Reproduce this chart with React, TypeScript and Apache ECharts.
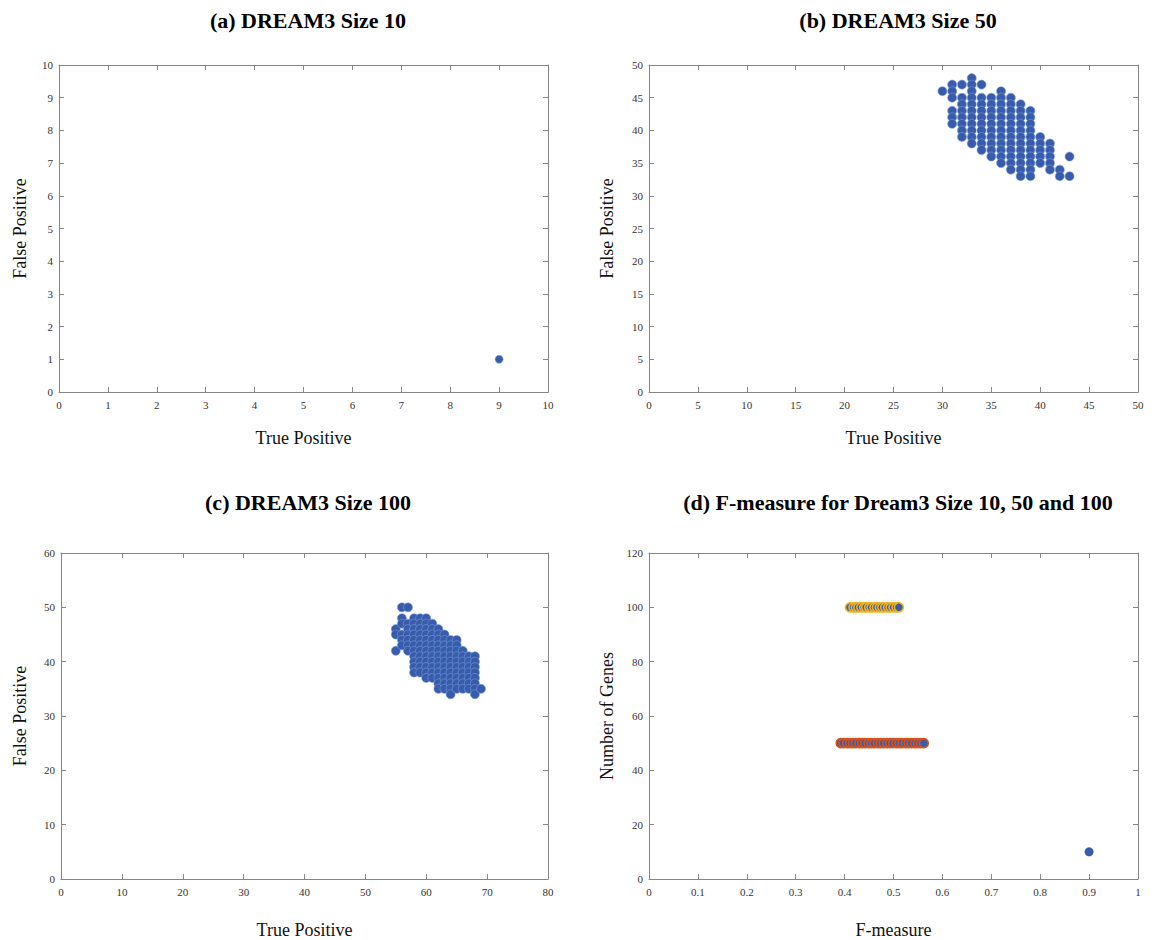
import React, { useEffect, useRef } from "react";
import * as echarts from "echarts";

// ---------- data ----------
const titles = [
  "(a) DREAM3 Size 10",
  "(b) DREAM3 Size 50",
  "(c) DREAM3 Size 100",
  "(d) F-measure for Dream3 Size 10, 50 and 100",
];
const xNames = ["True Positive", "True Positive", "True Positive", "F-measure"];
const yNames = ["False Positive", "False Positive", "False Positive", "Number of Genes"];

// panel (a): [TP, FP]
const size10Points: number[][] = [[9, 1]];

// panel (b): TP columns and the FP values present in each column
const size50TP = [30, 31, 32, 33, 34, 35, 36, 37, 38, 39, 40, 41, 42, 43];
const size50FP: number[][] = [
  [46],
  [47, 46, 45, 43, 42, 41],
  [47, 45, 44, 43, 42, 41, 40, 39],
  [48, 47, 46, 45, 44, 43, 42, 41, 40, 39, 38],
  [47, 45, 44, 43, 42, 41, 40, 39, 38, 37],
  [45, 44, 43, 42, 41, 40, 39, 38, 37, 36],
  [46, 45, 44, 43, 42, 41, 40, 39, 38, 37, 36, 35],
  [45, 44, 43, 42, 41, 40, 39, 38, 37, 36, 35, 34],
  [44, 43, 42, 41, 40, 39, 38, 37, 36, 35, 34, 33],
  [43, 42, 41, 40, 39, 38, 37, 36, 35, 34, 33],
  [39, 38, 37, 36, 35],
  [38, 37, 36, 35, 34],
  [34, 33],
  [36, 33],
];

// panel (c)
const size100TP = [55, 56, 57, 58, 59, 60, 61, 62, 63, 64, 65, 66, 67, 68, 69];
const size100FP: number[][] = [
  [46, 45, 42],
  [50, 48, 47, 45, 44, 43],
  [50, 47, 46, 45, 44, 43, 42],
  [48, 47, 46, 45, 44, 43, 42, 41, 40, 39, 38],
  [48, 47, 46, 45, 44, 43, 42, 41, 40, 39, 38],
  [48, 47, 46, 45, 44, 43, 42, 41, 40, 39, 38, 37],
  [47, 46, 45, 44, 43, 42, 41, 40, 39, 38, 37],
  [46, 45, 44, 43, 42, 41, 40, 39, 38, 37, 36, 35],
  [45, 44, 43, 42, 41, 40, 39, 38, 37, 36, 35],
  [44, 43, 42, 41, 40, 39, 38, 37, 36, 35, 34],
  [44, 43, 42, 41, 40, 39, 38, 37, 36, 35],
  [42, 41, 40, 39, 38, 37, 36, 35],
  [41, 40, 39, 38, 37, 36, 35],
  [41, 40, 39, 38, 37, 36, 35, 34],
  [35],
];

// panel (d): F-measure values per network size
const fSize100 = [0.411, 0.418, 0.423, 0.428, 0.434, 0.44, 0.444, 0.45, 0.455, 0.461, 0.466, 0.472, 0.477, 0.483, 0.489, 0.494, 0.5, 0.506, 0.511];
const fSize50 = [0.392, 0.398, 0.405, 0.411, 0.417, 0.423, 0.43, 0.436, 0.442, 0.449, 0.455, 0.461, 0.468, 0.474, 0.48, 0.487, 0.493, 0.499, 0.506, 0.512, 0.518, 0.525, 0.531, 0.537, 0.544, 0.55, 0.556, 0.562];
const fSize10 = [0.9];
const geneCounts = [100, 50, 10];

// axis ranges
const xMax = [10, 50, 80, 1];
const xStep = [1, 5, 10, 0.1];
const yMax = [10, 50, 60, 120];
const yStep = [1, 5, 10, 20];

// ---------- styles ----------
const SERIF = "Liberation Serif";
const BLUE = "#3a5ba9";
const AXIS = "#858585";

const grids = [
  { left: 59, top: 65, width: 489, height: 327 },
  { left: 649, top: 65, width: 489, height: 327 },
  { left: 61, top: 553, width: 487, height: 326 },
  { left: 649, top: 553, width: 489, height: 326 },
];
const titlePos = [
  { x: 303, y: 4 },
  { x: 893, y: 4 },
  { x: 303, y: 486 },
  { x: 893, y: 486 },
];
const xNameGap = [37, 37, 42, 42];
const yNameGap = [30, 33, 32, 33];

function fmt(v: number) {
  return String(Math.round(v * 10) / 10);
}

function columnsToPoints(tps: number[], fps: number[][]) {
  const out: number[][] = [];
  tps.forEach((tp, i) => fps[i].forEach((fp) => out.push([tp, fp])));
  return out;
}

export default function App() {
  const ref = useRef<HTMLDivElement>(null);

  useEffect(() => {
    if (!ref.current) return;
    const chart = echarts.init(ref.current, undefined, { renderer: "svg" });

    const xAxes: any[] = [];
    const yAxes: any[] = [];
    for (let i = 0; i < 4; i++) {
      const common = {
        gridIndex: i,
        type: "value",
        min: 0,
        splitLine: { show: false },
        axisLine: { show: true, onZero: false, lineStyle: { color: AXIS, width: 1 } },
        axisTick: { show: true, inside: true, length: 5, lineStyle: { color: AXIS } },
      };
      xAxes.push({
        ...common,
        max: xMax[i],
        interval: xStep[i],
        position: "bottom",
        name: xNames[i],
        nameLocation: "middle",
        nameGap: xNameGap[i],
        nameTextStyle: { fontFamily: SERIF, fontSize: 18, color: "#111" },
        axisLabel: { fontFamily: SERIF, fontSize: 11, color: "#333", margin: 7, formatter: fmt },
      });
      xAxes.push({
        ...common,
        max: xMax[i],
        interval: xStep[i],
        position: "top",
        axisLabel: { show: false },
      });
      yAxes.push({
        ...common,
        max: yMax[i],
        interval: yStep[i],
        position: "left",
        name: yNames[i],
        nameLocation: "middle",
        nameGap: yNameGap[i],
        nameRotate: 90,
        nameTextStyle: { fontFamily: SERIF, fontSize: 18, color: "#111" },
        axisLabel: { fontFamily: SERIF, fontSize: 11, color: "#333", margin: 6, formatter: fmt },
      });
      yAxes.push({
        ...common,
        max: yMax[i],
        interval: yStep[i],
        position: "right",
        axisLabel: { show: false },
      });
    }

    const dotStyle = { color: BLUE, borderColor: "#6f9de0", borderWidth: 0.6, opacity: 1 };

    const series: any[] = [
      {
        type: "scatter",
        xAxisIndex: 0,
        yAxisIndex: 0,
        symbolSize: 8,
        itemStyle: dotStyle,
        data: size10Points,
      },
      {
        type: "scatter",
        xAxisIndex: 2,
        yAxisIndex: 2,
        symbolSize: 9,
        itemStyle: dotStyle,
        data: columnsToPoints(size50TP, size50FP),
      },
      {
        type: "scatter",
        xAxisIndex: 4,
        yAxisIndex: 4,
        symbolSize: 9,
        itemStyle: dotStyle,
        data: columnsToPoints(size100TP, size100FP),
      },
      {
        type: "scatter",
        xAxisIndex: 6,
        yAxisIndex: 6,
        symbolSize: 9,
        itemStyle: { color: BLUE, borderColor: "#EDB120", borderWidth: 1.6, opacity: 1 },
        data: fSize100.map((f) => [f, geneCounts[0]]),
      },
      {
        type: "scatter",
        xAxisIndex: 6,
        yAxisIndex: 6,
        symbolSize: 9,
        itemStyle: { color: BLUE, borderColor: "#D95319", borderWidth: 1.6, opacity: 1 },
        data: fSize50.map((f) => [f, geneCounts[1]]),
      },
      {
        type: "scatter",
        xAxisIndex: 6,
        yAxisIndex: 6,
        symbolSize: 9,
        itemStyle: { color: BLUE, opacity: 1 },
        data: fSize10.map((f) => [f, geneCounts[2]]),
      },
    ];

    chart.setOption({
      animation: false,
      backgroundColor: "#ffffff",
      title: titles.map((t, i) => ({
        text: t,
        left: titlePos[i].x,
        top: titlePos[i].y,
        textAlign: "center",
        textStyle: { fontFamily: SERIF, fontSize: 22, fontWeight: "bold", color: "#000" },
      })),
      grid: grids.map((g) => ({ ...g, show: false, containLabel: false })),
      xAxis: xAxes,
      yAxis: yAxes,
      series,
    });

    return () => chart.dispose();
  }, []);

  return (
    <div
      ref={ref}
      style={{ position: "absolute", left: 0, top: 0, width: 1158, height: 940, background: "#fff" }}
    />
  );
}
